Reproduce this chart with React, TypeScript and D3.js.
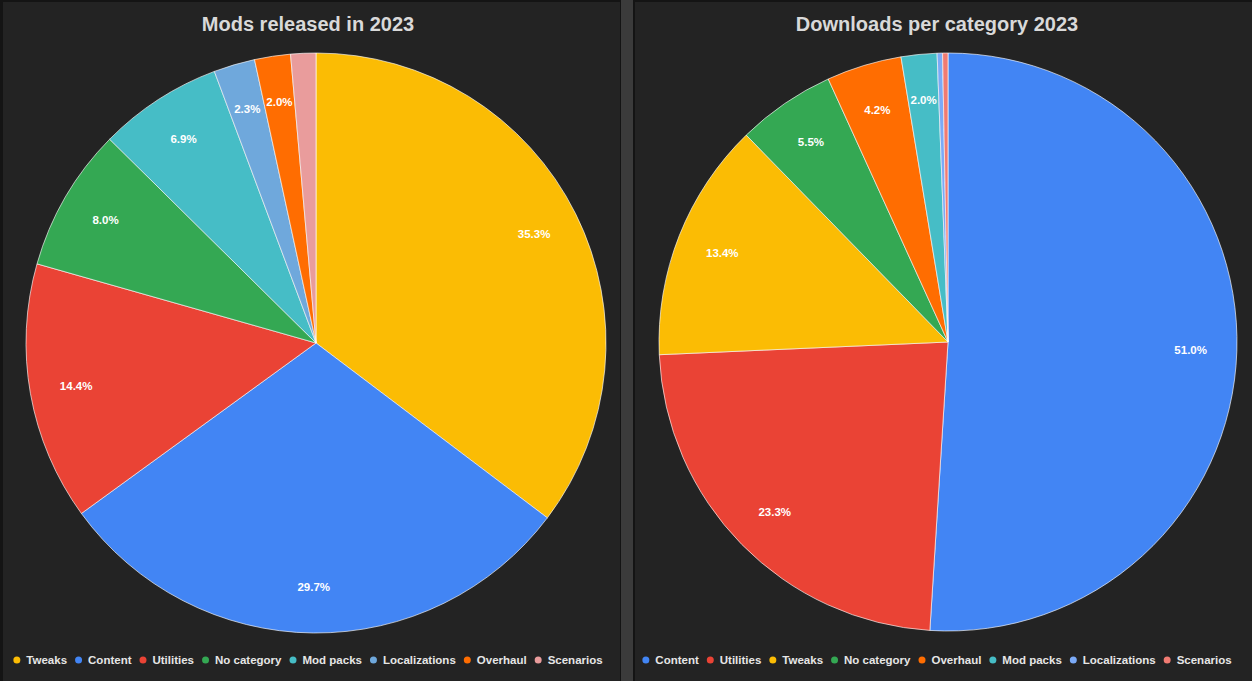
import * as d3 from "d3";
import { useEffect, useRef } from "react";

// Mods released in 2023 (share of mods, %)
const modCategories = ["Tweaks", "Content", "Utilities", "No category", "Mod packs", "Localizations", "Overhaul", "Scenarios"];
const modShares = [35.3, 29.7, 14.4, 8.0, 6.9, 2.3, 2.0, 1.4];

// Downloads per category 2023 (%)
const dlCategories = ["Content", "Utilities", "Tweaks", "No category", "Overhaul", "Mod packs", "Localizations", "Scenarios"];
const dlShares = [51.0, 23.3, 13.4, 5.5, 4.2, 2.0, 0.3, 0.3];

const colors: Record<string, string> = {
  Content: "#4285f4",
  Utilities: "#ea4335",
  Tweaks: "#fbbc04",
  "No category": "#34a853",
  Overhaul: "#ff6d01",
  "Mod packs": "#46bdc6",
  Localizations: "#6fa8dc",
  Scenarios: "#e99c9c",
};
const dlColors: Record<string, string> = { ...colors, Localizations: "#7baaf7", Scenarios: "#f07b72" };

const W = 1252;
const H = 681;
const FONT = "'Liberation Sans', Arial, sans-serif";

type Slice = { c: string; v: number };

function drawPanel(
  g: d3.Selection<SVGGElement, unknown, null, undefined>,
  title: string,
  cats: string[],
  vals: number[],
  cx: number,
  cy: number,
  r: number,
  centerX: number,
  pal: Record<string, string>
) {
  g.append("text")
    .attr("x", centerX)
    .attr("y", 31)
    .attr("text-anchor", "middle")
    .attr("font-family", FONT)
    .attr("font-weight", "bold")
    .attr("font-size", 20)
    .attr("fill", "#d9d9d9")
    .text(title);

  const data: Slice[] = cats.map((c, i) => ({ c, v: vals[i] }));
  const arcs = d3.pie<Slice>().value(d => d.v).sort(null)(data);
  const arc = d3.arc<d3.PieArcDatum<Slice>>().innerRadius(0).outerRadius(r);
  const labelArc = d3.arc<d3.PieArcDatum<Slice>>().innerRadius(r * 0.84).outerRadius(r * 0.84);

  const pg = g.append("g").attr("transform", `translate(${cx},${cy})`);
  pg.selectAll("path")
    .data(arcs)
    .enter()
    .append("path")
    .attr("d", arc)
    .attr("fill", d => pal[d.data.c])
    .attr("stroke", "#ffffff")
    .attr("stroke-opacity", 0.8)
    .attr("stroke-width", 0.8);

  pg.selectAll("text")
    .data(arcs.filter(d => d.data.v >= 2))
    .enter()
    .append("text")
    .attr("transform", d => `translate(${labelArc.centroid(d)})`)
    .attr("text-anchor", "middle")
    .attr("dy", "0.35em")
    .attr("font-family", FONT)
    .attr("font-weight", "bold")
    .attr("font-size", 11.5)
    .attr("fill", "#ffffff")
    .text(d => `${d.data.v.toFixed(1)}%`);

  // legend, centered under the pie
  const lg = g.append("g");
  const items = cats.map(c => {
    const t = lg.append("text")
      .attr("font-family", FONT)
      .attr("font-weight", "bold")
      .attr("font-size", 11.5)
      .attr("fill", "#e6e6e6")
      .attr("y", 664)
      .text(c);
    const w = (t.node() as SVGTextElement).getComputedTextLength();
    return { c, t, w };
  });
  const dotR = 3.5;
  const dotGap = 6;
  const itemGap = 8;
  const total = d3.sum(items, d => dotR * 2 + dotGap + d.w) + itemGap * (items.length - 1);
  let x = centerX - total / 2;
  items.forEach(it => {
    lg.append("circle")
      .attr("cx", x + dotR)
      .attr("cy", 660)
      .attr("r", dotR)
      .attr("fill", pal[it.c]);
    it.t.attr("x", x + dotR * 2 + dotGap);
    x += dotR * 2 + dotGap + it.w + itemGap;
  });
}

export default function App() {
  const ref = useRef<SVGSVGElement>(null);

  useEffect(() => {
    const svg = d3.select(ref.current);
    svg.selectAll("*").remove();

    svg.append("rect").attr("width", W).attr("height", H).attr("fill", "#141414");
    svg.append("rect").attr("x", 3).attr("y", 2).attr("width", 617).attr("height", H - 2).attr("fill", "#232323");
    svg.append("rect").attr("x", 621).attr("y", 0).attr("width", 12).attr("height", H).attr("fill", "#3b3b3b");
    svg.append("rect").attr("x", 635).attr("y", 2).attr("width", W - 635).attr("height", H - 2).attr("fill", "#232323");

    drawPanel(svg.append("g"), "Mods released in 2023", modCategories, modShares, 316, 343, 290, 308, colors);
    drawPanel(svg.append("g"), "Downloads per category 2023", dlCategories, dlShares, 948, 342, 289, 937, dlColors);
  }, []);

  return (
    <div style={{ position: "fixed", left: 0, top: 0 }}>
      <svg ref={ref} width={W} height={H} style={{ display: "block" }} />
    </div>
  );
}
